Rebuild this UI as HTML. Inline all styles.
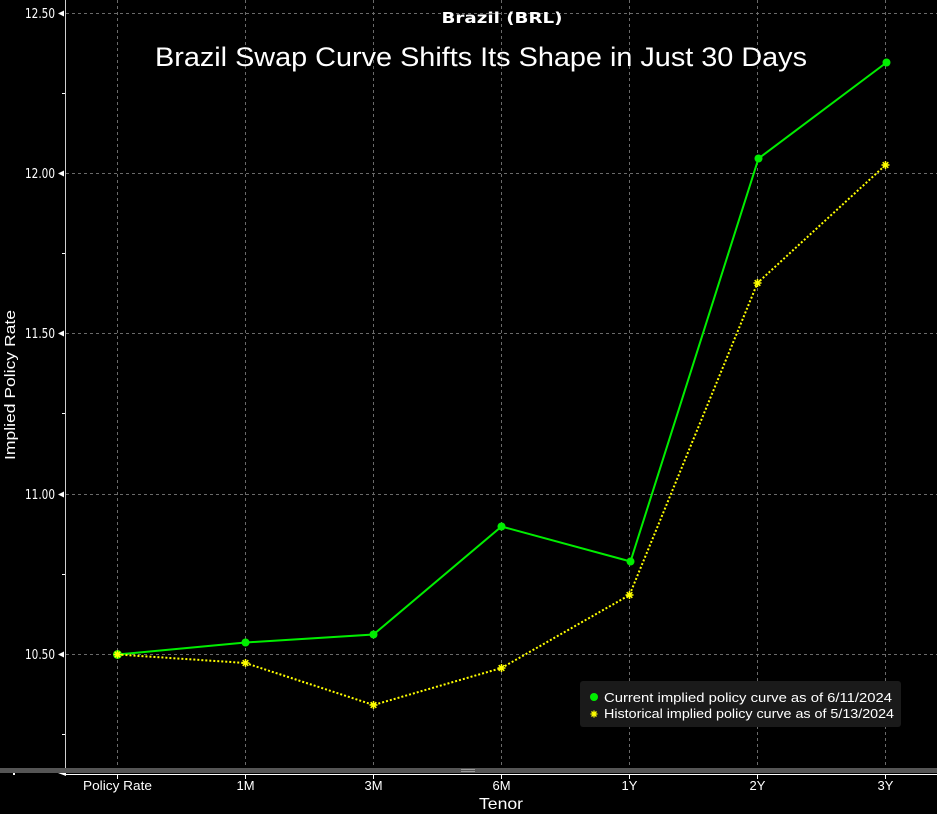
<!DOCTYPE html>
<html><head><meta charset="utf-8"><style>
html,body{margin:0;padding:0;background:#000;}
svg{display:block;}
text{font-family:"Liberation Sans","DejaVu Sans",sans-serif;}
text.dj{font-family:"DejaVu Sans","Liberation Sans",sans-serif;}
</style></head><body>
<svg width="937" height="814" viewBox="0 0 937 814" xmlns="http://www.w3.org/2000/svg">
<rect width="937" height="814" fill="#000"/>
<!-- grid -->
<g stroke="#6a6a6a" stroke-width="1" stroke-dasharray="3,3">
<line x1="66" y1="13.5" x2="937" y2="13.5"/>
<line x1="66" y1="173.5" x2="937" y2="173.5"/>
<line x1="66" y1="333.5" x2="937" y2="333.5"/>
<line x1="66" y1="494.5" x2="937" y2="494.5"/>
<line x1="66" y1="654.5" x2="937" y2="654.5"/>
<line x1="117.5" y1="0" x2="117.5" y2="768"/>
<line x1="245.5" y1="0" x2="245.5" y2="768"/>
<line x1="373.5" y1="0" x2="373.5" y2="768"/>
<line x1="501.5" y1="0" x2="501.5" y2="768"/>
<line x1="629.5" y1="0" x2="629.5" y2="768"/>
<line x1="757.5" y1="0" x2="757.5" y2="768"/>
<line x1="885.5" y1="0" x2="885.5" y2="768"/>
</g>
<!-- y axis -->
<line x1="65.5" y1="0" x2="65.5" y2="768" stroke="#cfcfcf" stroke-width="1"/>
<g fill="#fff">
<polygon points="58,13.5 64,10.5 64,16.5"/>
<polygon points="58,173.5 64,170.5 64,176.5"/>
<polygon points="58,333.5 64,330.5 64,336.5"/>
<polygon points="58,494.5 64,491.5 64,497.5"/>
<polygon points="58,654.5 64,651.5 64,657.5"/>
<rect x="62" y="93" width="3" height="1"/>
<rect x="62" y="253" width="3" height="1"/>
<rect x="62" y="413" width="3" height="1"/>
<rect x="62" y="574" width="3" height="1"/>
<rect x="62" y="734" width="3" height="1"/>
</g>
<g fill="#fff" font-size="13">
<text class="dj" x="25" y="18" textLength="30" lengthAdjust="spacingAndGlyphs">12.50</text>
<text class="dj" x="25" y="178" textLength="30" lengthAdjust="spacingAndGlyphs">12.00</text>
<text class="dj" x="25" y="338" textLength="30" lengthAdjust="spacingAndGlyphs">11.50</text>
<text class="dj" x="25" y="499" textLength="30" lengthAdjust="spacingAndGlyphs">11.00</text>
<text class="dj" x="25" y="659" textLength="30" lengthAdjust="spacingAndGlyphs">10.50</text>
</g>
<text transform="translate(15,385) rotate(-90)" fill="#fff" font-size="15" text-anchor="middle" textLength="150" lengthAdjust="spacingAndGlyphs">Implied Policy Rate</text>
<!-- titles -->
<text x="502" y="23" fill="#fff" font-size="15" font-weight="bold" text-anchor="middle" class="dj" textLength="121" lengthAdjust="spacingAndGlyphs">Brazil (BRL)</text>
<text x="481" y="66" fill="#fff" font-size="27" text-anchor="middle" textLength="652" lengthAdjust="spacingAndGlyphs">Brazil Swap Curve Shifts Its Shape in Just 30 Days</text>
<!-- scrollbar -->
<rect x="0" y="768" width="937" height="5" fill="#555"/>
<rect x="461" y="769" width="14" height="1" fill="#999"/>
<rect x="461" y="771" width="14" height="1" fill="#999"/>
<line x1="66" y1="774.5" x2="937" y2="774.5" stroke="#fff" stroke-width="1"/>
<polygon points="58,773 66,773 66,776" fill="#fff"/>
<rect x="13" y="773" width="2" height="2" fill="#fff"/>
<g stroke="#fff" stroke-width="1">
<line x1="117.5" y1="775" x2="117.5" y2="779"/>
<line x1="245.5" y1="775" x2="245.5" y2="779"/>
<line x1="373.5" y1="775" x2="373.5" y2="779"/>
<line x1="501.5" y1="775" x2="501.5" y2="779"/>
<line x1="629.5" y1="775" x2="629.5" y2="779"/>
<line x1="757.5" y1="775" x2="757.5" y2="779"/>
<line x1="885.5" y1="775" x2="885.5" y2="779"/>
</g>
<g fill="#fff" font-size="13" text-anchor="middle">
<text x="117.5" y="790" textLength="69" lengthAdjust="spacingAndGlyphs">Policy Rate</text>
<text x="245.5" y="790">1M</text>
<text x="373.5" y="790">3M</text>
<text x="501.5" y="790">6M</text>
<text x="629.5" y="790">1Y</text>
<text x="757.5" y="790">2Y</text>
<text x="885.5" y="790">3Y</text>
</g>
<text x="501" y="809" fill="#fff" font-size="16" text-anchor="middle" textLength="44" lengthAdjust="spacingAndGlyphs">Tenor</text>
<!-- green series -->
<polyline fill="none" stroke="#00ee00" stroke-width="2" points="117.5,654.5 245.5,642.5 373.5,634.5 501.5,526.5 630.5,561.5 758.5,158.5 886.5,62.5"/>
<g fill="#00ee00">
<circle cx="117.5" cy="654.5" r="4.5"/>
<circle cx="245.5" cy="642.5" r="4"/>
<circle cx="373.5" cy="634.5" r="4"/>
<circle cx="501.5" cy="526.5" r="4"/>
<circle cx="630.5" cy="561.5" r="4"/>
<circle cx="758.5" cy="158.5" r="4"/>
<circle cx="886.5" cy="62.5" r="4"/>
</g>
<!-- yellow series -->
<polyline fill="none" stroke="#ffff00" stroke-width="2" stroke-dasharray="2,2" points="117.5,654.5 245.5,663 373.5,705 501.5,668 629.5,595 757.5,283 885.5,165"/>
<g stroke="#ffff00" stroke-width="1.5">
<path d="M113.5 654.5h8M117.5 650.5v8M114.7 651.7l5.6 5.6M120.3 651.7l-5.6 5.6"/>
<path d="M241.5 663h8M245.5 659v8M242.7 660.2l5.6 5.6M248.3 660.2l-5.6 5.6"/>
<path d="M369.5 705h8M373.5 701v8M370.7 702.2l5.6 5.6M376.3 702.2l-5.6 5.6"/>
<path d="M497.5 668h8M501.5 664v8M498.7 665.2l5.6 5.6M504.3 665.2l-5.6 5.6"/>
<path d="M625.5 595h8M629.5 591v8M626.7 592.2l5.6 5.6M632.3 592.2l-5.6 5.6"/>
<path d="M753.5 283h8M757.5 279v8M754.7 280.2l5.6 5.6M760.3 280.2l-5.6 5.6"/>
<path d="M881.5 165h8M885.5 161v8M882.7 162.2l5.6 5.6M888.3 162.2l-5.6 5.6"/>
</g>
<!-- legend -->
<rect x="580" y="681" width="321" height="46" rx="3" fill="#1a1a1a"/>
<circle cx="594" cy="697" r="4" fill="#00ee00"/>
<g stroke="#ffff00" stroke-width="1.3">
<path d="M590.5 714h7M594 710.5v7M591.5 711.5l5 5M596.5 711.5l-5 5"/>
</g>
<g fill="#fff" font-size="13">
<text x="604" y="702" textLength="288" lengthAdjust="spacingAndGlyphs">Current implied policy curve as of 6/11/2024</text>
<text x="604" y="718" textLength="290" lengthAdjust="spacingAndGlyphs">Historical implied policy curve as of 5/13/2024</text>
</g>
</svg>
</body></html>
